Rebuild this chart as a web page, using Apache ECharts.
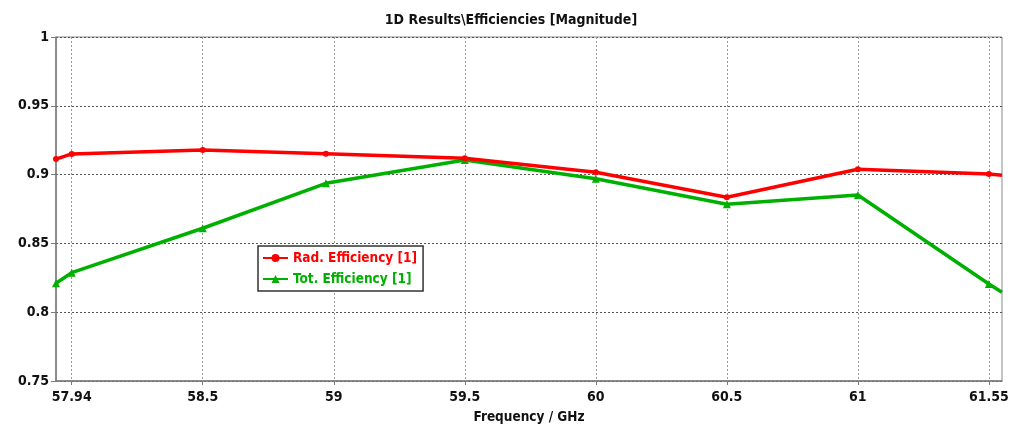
<!DOCTYPE html>
<html>
<head>
<meta charset="utf-8">
<script src="https://cdn.jsdelivr.net/npm/echarts@6/dist/echarts.min.js"></script>
<style>html,body{margin:0;padding:0;background:#fff;}#c{width:1022px;height:426px;}</style>
</head>
<body>
<div id="c"></div>
<script>
const titleText = '1D Results\\Efficiencies [Magnitude]';
const freq   = [57.94, 58.0, 58.5, 58.97, 59.5, 60.0, 60.5, 61.0, 61.5, 61.55];
const radEff = [0.9113, 0.9150, 0.9179, 0.9152, 0.9118, 0.9017, 0.8835, 0.9039, 0.9004, 0.8995];
const totEff = [0.8210, 0.8287, 0.8610, 0.8937, 0.9106, 0.8970, 0.8784, 0.8852, 0.8205, 0.8145];
const xTickValues = [58.0, 58.5, 59, 59.5, 60, 60.5, 61, 61.5];
const xTickLabels = ['57.94', '58.5', '59', '59.5', '60', '60.5', '61', '61.55'];
const seriesNames = ['Rad. Efficiency [1]', 'Tot. Efficiency [1]'];
const seriesColors = ['#ff0000', '#00b000'];

const FONT = '"DejaVu Sans Condensed", "DejaVu Sans", sans-serif';
function pts(ys){
  return freq.map((x,i)=> i === freq.length-1 ? {value:[x, ys[i]], symbolSize:0} : [x, ys[i]]);
}
const chart = echarts.init(document.getElementById('c'), null, {renderer:'canvas'});
chart.setOption({
  animation:false,
  backgroundColor:'#fff',
  title:{text:titleText, top:8, left:'center',
    textStyle:{fontFamily:FONT, fontWeight:'bold', fontSize:14, color:'#111'}},
  grid:{left:56, right:20, top:37, bottom:45, outerBoundsMode:'none', containLabel:false,
    show:true, borderColor:'#8a8a8a', borderWidth:1, backgroundColor:'transparent'},
  legend:{orient:'vertical', left:258, top:246, backgroundColor:'#fff', borderColor:'#333', borderWidth:1.5,
    padding:[5,6,5,4], itemGap:7, itemWidth:25, itemHeight:10,
    data: seriesNames.map((n,i)=>({name:n, textStyle:{color:seriesColors[i]}})),
    textStyle:{fontFamily:FONT, fontWeight:'bold', fontSize:13.5}
  },
  xAxis:{type:'value', min:57.94, max:61.55,
    name:'Frequency / GHz', nameLocation:'middle', nameGap:29,
    nameTextStyle:{fontFamily:FONT, fontWeight:'bold', fontSize:13.5, color:'#111'},
    axisLine:{show:true, onZero:false, lineStyle:{color:'#7a7a7a', width:1.5}},
    axisTick:{show:true, customValues:xTickValues, length:4, lineStyle:{color:'#7a7a7a'}},
    axisLabel:{customValues:xTickValues, margin:9, fontFamily:FONT, fontWeight:'bold', fontSize:14, color:'#111',
      formatter:(v)=>{const i = xTickValues.findIndex(t=>Math.abs(t-v)<1e-6); return i>=0 ? xTickLabels[i] : '';}},
    splitLine:{show:true, lineStyle:{type:[2,2], color:'#9a9a9a', width:1}}
  },
  yAxis:{type:'value', min:0.75, max:1, interval:0.05,
    axisLine:{show:true, lineStyle:{color:'#7a7a7a', width:1.5}},
    axisTick:{show:true, length:5, lineStyle:{color:'#7a7a7a'}},
    axisLabel:{margin:7, fontFamily:FONT, fontWeight:'bold', fontSize:14, color:'#111'},
    splitLine:{show:true, lineStyle:{type:[2,2], color:'#555', width:1}}
  },
  series:[
    {name:seriesNames[0], type:'line', data:pts(radEff), color:seriesColors[0],
      symbol:'circle', symbolSize:6, lineStyle:{width:3.5, color:seriesColors[0]}, itemStyle:{color:seriesColors[0]}, z:3},
    {name:seriesNames[1], type:'line', data:pts(totEff), color:seriesColors[1],
      symbol:'triangle', symbolSize:8, lineStyle:{width:3.5, color:seriesColors[1]}, itemStyle:{color:seriesColors[1]}, z:2}
  ]
});
</script>
</body>
</html>
